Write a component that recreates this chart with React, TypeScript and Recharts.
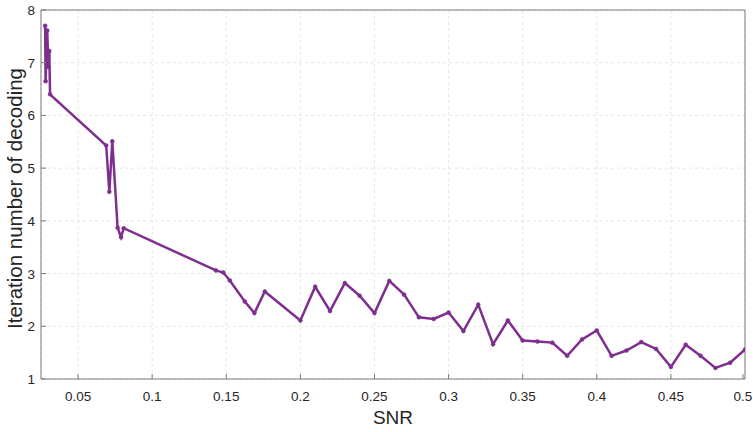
import { LineChart, Line, XAxis, YAxis, CartesianGrid, ReferenceLine } from 'recharts'

const snr = [
  0.0278, 0.0281, 0.0292, 0.03, 0.0306, 0.0311, 0.069, 0.0711, 0.0731, 0.0767,
  0.079, 0.0808, 0.143, 0.148, 0.1524, 0.1625, 0.169, 0.176, 0.2, 0.21, 0.22,
  0.23, 0.24, 0.25, 0.26, 0.27, 0.28, 0.29, 0.3, 0.31, 0.32, 0.33, 0.34, 0.35,
  0.36, 0.37, 0.38, 0.39, 0.4, 0.41, 0.42, 0.43, 0.44, 0.45, 0.46, 0.47, 0.48,
  0.49, 0.5,
]
const iterations = [
  7.7, 6.65, 7.61, 6.92, 7.22, 6.4, 5.43, 4.55, 5.51, 3.87, 3.69, 3.86, 3.06,
  3.02, 2.87, 2.47, 2.25, 2.66, 2.11, 2.75, 2.29, 2.82, 2.58, 2.25, 2.86, 2.6,
  2.17, 2.14, 2.26, 1.91, 2.41, 1.66, 2.11, 1.73, 1.71, 1.69, 1.44, 1.75, 1.92,
  1.44, 1.54, 1.7, 1.57, 1.23, 1.65, 1.44, 1.21, 1.31, 1.56,
]
const xTicks = [0.05, 0.1, 0.15, 0.2, 0.25, 0.3, 0.35, 0.4, 0.45, 0.5]
const yTicks = [1, 2, 3, 4, 5, 6, 7, 8]

const data = snr.map((s, i) => ({ snr: s, it: iterations[i] }))

const FONT = "Arial, 'Liberation Sans', Helvetica, sans-serif"
const AXIS = '#7a7a7a'
const TEXT = '#262626'
const PURPLE = '#7E2F8E'

function BottomTick({ x, y, payload }: any) {
  return (
    <g>
      <line x1={x} y1={y} x2={x} y2={y - 5} stroke={AXIS} />
      <text x={x} y={y + 22} textAnchor="middle" fontSize={13.5} fill={TEXT} fontFamily={FONT}>
        {payload.value}
      </text>
    </g>
  )
}

function LeftTick({ x, y, payload }: any) {
  return (
    <g>
      <line x1={x} y1={y} x2={x + 5} y2={y} stroke={AXIS} />
      <text x={x - 6} y={y + 5} textAnchor="end" fontSize={13.5} fill={TEXT} fontFamily={FONT}>
        {payload.value}
      </text>
    </g>
  )
}

export default function App() {
  return (
    <div style={{ position: 'absolute', left: 0, top: 0, width: 753, height: 432, background: '#fff' }}>
      <LineChart width={753} height={432} data={data} margin={{ top: 10, right: 8, bottom: 0, left: 0 }}>
        <CartesianGrid stroke="#e6e6e6" strokeDasharray="3 3" />
        <XAxis
          dataKey="snr"
          type="number"
          domain={[0.025, 0.5]}
          ticks={xTicks}
          allowDataOverflow
          height={53}
          tickSize={0}
          tickMargin={0}
          tickLine={false}
          stroke={AXIS}
          tick={<BottomTick />}
          label={{ value: 'SNR', position: 'center', dy: 12, style: { fontSize: 19, fill: TEXT, fontFamily: FONT } }}
        />
        <XAxis
          xAxisId="top"
          orientation="top"
          type="number"
          domain={[0.025, 0.5]}
          ticks={xTicks}
          allowDataOverflow
          height={0}
          mirror
          tick={false}
          tickSize={5}
          stroke={AXIS}
        />
        <YAxis
          type="number"
          domain={[1, 8]}
          ticks={yTicks}
          allowDataOverflow
          width={41}
          tickSize={0}
          tickMargin={0}
          tickLine={false}
          stroke={AXIS}
          tick={<LeftTick />}
          label={{
            value: 'Iteration number of decoding',
            angle: -90,
            position: 'center',
            dx: -6,
            dy: 4,
            style: { fontSize: 20.5, fill: TEXT, fontFamily: FONT, textAnchor: 'middle' },
          }}
        />
        <YAxis
          yAxisId="right"
          orientation="right"
          type="number"
          domain={[1, 8]}
          ticks={yTicks}
          allowDataOverflow
          width={0}
          mirror
          tick={false}
          tickSize={5}
          stroke={AXIS}
        />
        <ReferenceLine y={8} stroke={AXIS} />
        <ReferenceLine x={0.5} stroke={AXIS} />
        <Line
          type="linear"
          dataKey="it"
          stroke={PURPLE}
          strokeWidth={2.5}
          dot={{ r: 2, fill: PURPLE, stroke: PURPLE, strokeWidth: 0.5 }}
          isAnimationActive={false}
        />
      </LineChart>
    </div>
  )
}
